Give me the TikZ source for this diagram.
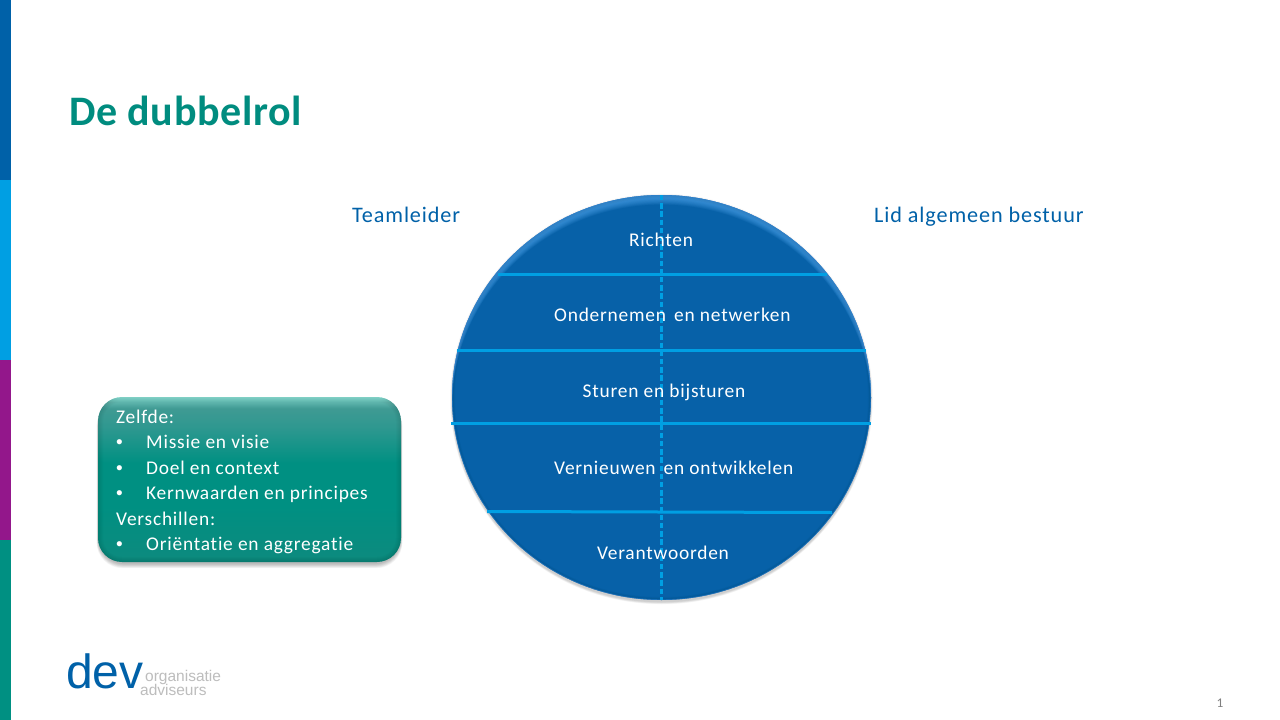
\documentclass[tikz,border=0pt]{standalone}
\usepackage{fontspec}
\setmainfont[LetterSpace=4,Ligatures=NoCommon]{Carlito}
\newfontfamily\titlefont[LetterSpace=1.6,Ligatures=NoCommon]{Carlito}
\newfontfamily\logofont{Liberation Sans}
\usetikzlibrary{calc}
\definecolor{barA}{HTML}{0061A8}
\definecolor{barB}{HTML}{009FE3}
\definecolor{barC}{HTML}{93178B}
\definecolor{barD}{HTML}{009082}
\definecolor{discbase}{HTML}{0761A8}
\definecolor{discrim}{HTML}{58ADF5}
\definecolor{discedge}{HTML}{2A7FD0}
\definecolor{lineblue}{HTML}{009FE3}
\definecolor{titleteal}{HTML}{008C7F}
\definecolor{headblue}{HTML}{0061A8}
\definecolor{logogrey}{HTML}{BDBDBD}
\definecolor{pagegrey}{HTML}{7F7F7F}
\definecolor{boxtop}{HTML}{8FE8DC}
\definecolor{boxhigh}{HTML}{5FB5AD}
\definecolor{boxmid}{HTML}{3F9A93}
\definecolor{boxlow}{HTML}{2F9890}
\definecolor{boxfoot}{HTML}{0D8A7E}
\pgfdeclareverticalshading{boxshade}{100bp}{
  color(0bp)=(boxfoot);
  color(25bp)=(boxfoot);
  color(42bp)=(barD);
  color(55bp)=(barD);
  color(66bp)=(boxlow);
  color(71.5bp)=(boxmid);
  color(73.5bp)=(boxhigh);
  color(75bp)=(boxtop);
  color(100bp)=(boxtop)}
\tikzset{
  x=1pt,y=-1pt,
  disctext/.style={inner sep=0pt,anchor=base,text=white,font=\fontsize{19.4}{22}\selectfont},
  boxtext/.style={inner sep=0pt,anchor=base west,text=white,font=\fontsize{19.4}{22}\selectfont},
  boxbullet/.style={inner sep=0pt,anchor=base west,text=white,font=\logofont\fontsize{19}{22}\selectfont},
  bandline/.style={draw=lineblue,line width=3pt},
  splitline/.style={draw=lineblue,line width=2.3pt,dash pattern=on 5.4pt off 2.8pt},
  headtext/.style={inner sep=0pt,anchor=base west,text=headblue,font=\fontsize{22.2}{26}\selectfont},
}
\begin{document}
\begin{tikzpicture}
\useasboundingbox (0,0) rectangle (1280,720);
\fill[white] (0,0) rectangle (1280,720);
% side bars
\fill[barA] (0,0) rectangle (11,180);
\fill[barB] (0,180) rectangle (11,360);
\fill[barC] (0,360) rectangle (11,540);
\fill[barD] (0,540) rectangle (11,720);
% title
\node[inner sep=0pt,anchor=base west,text=titleteal,font=\titlefont\fontsize{42}{46}\selectfont\bfseries] (title) at (69,125) {De dubbelrol};
% headings
\node[headtext] (lead) at (352,222) {Teamleider};
\node[headtext] (board) at (874,222) {Lid algemeen bestuur};
% disc shadow
\foreach \i in {0,...,7}
  \fill[black,opacity=0.022] (661.5,{399+0.1*\i}) ellipse [x radius={209.5+0.25*(7-\i)},y radius={202.5+0.4*(7-\i)}];
% disc
\fill[discbase] (661.5,397.5) ellipse [x radius=209.5,y radius=202.5];
\begin{scope}
\clip (661.5,397.5) ellipse [x radius=209.5,y radius=202.5];
\foreach \i in {1,...,12}
  \fill[discrim,opacity=0.09,even odd rule] (400,150) rectangle (920,650) (661.5,{397.5+\i*0.8}) ellipse [x radius=209.5,y radius=202.5];
\foreach \i in {1,...,5}
  \draw[black,opacity=0.02,line width={\i*1.2pt}] (661.5,397.5) ellipse [x radius=209.5,y radius=202.5];
\draw[discedge,opacity=0.6,line width=1.4pt] (661.5,397.5) ellipse [x radius=209.5,y radius=202.5];
\end{scope}
% band lines
\coordinate (l1a) at (498,274); \coordinate (l1b) at (827,274);
\coordinate (l2a) at (457,350.5); \coordinate (l2b) at (866,350.5);
\coordinate (l3a) at (451,423.5); \coordinate (l3b) at (871,423.5);
\coordinate (l4a) at (487,511.5); \coordinate (l4b) at (832,512.5);
\coordinate (sa) at (661.5,195); \coordinate (sb) at (661.5,600);
\draw[splitline] (sa) -- (sb);
\draw[bandline] (l1a) -- (l1b);
\draw[bandline] (l2a) -- (l2b);
\draw[bandline] (l3a) -- (l3b);
\draw[bandline] (l4a) -- (l4b);
% disc labels
\node[disctext] (t1) at (661,246) {Richten};
\node[disctext,anchor=base west] (t2a) at (554,321) {Ondernemen};
\node[disctext,anchor=base west] (t2b) at (674,321) {en netwerken};
\node[disctext] (t3) at (664,397) {Sturen en bijsturen};
\node[disctext,anchor=base west] (t4a) at (554,474) {Vernieuwen};
\node[disctext,anchor=base west] (t4b) at (663.5,474) {en ontwikkelen};
\node[disctext] (t5) at (663,559) {Verantwoorden};
% box shadow
\foreach \i in {0,...,7}
  \fill[black,opacity=0.035,rounded corners=26pt] ({98-(7-\i)*0.2},{400}) rectangle ({401+(7-\i)*0.2},{564+(7-\i)*0.6});
% box
\shade[rounded corners=24pt,shading=boxshade] (98,397) rectangle (401,562);
\begin{scope}
\clip[rounded corners=24pt] (98,397) rectangle (401,562);
\foreach \i in {1,...,5}
  \draw[black,opacity=0.018,line width={\i*2pt},rounded corners=24pt] (98,397) rectangle (401,562);
\end{scope}
% box text
\node[boxtext] (z0) at (116,423) {Zelfde:};
\node[boxbullet] (b1) at (116,448.5) {•};
\node[boxtext] (z1) at (146,448.5) {Missie en visie};
\node[boxbullet] (b2) at (116,474) {•};
\node[boxtext] (z2) at (146,474) {Doel en context};
\node[boxbullet] (b3) at (116,499.5) {•};
\node[boxtext] (z3) at (146,499.5) {Kernwaarden en principes};
\node[boxtext] (v0) at (116,525) {Verschillen:};
\node[boxbullet] (b4) at (116,550.5) {•};
\node[boxtext] (v1) at (146,550.5) {Oriëntatie en aggregatie};
% logo
\node[inner sep=0pt,anchor=base west,text=headblue,font=\logofont\fontsize{48}{50}\selectfont] (dev) at (66,688) {dev};
\node[inner sep=0pt,anchor=base west,text=logogrey,font=\logofont\fontsize{15.5}{17}\selectfont] (lg1) at (145,681) {organisatie};
\node[inner sep=0pt,anchor=base west,text=logogrey,font=\logofont\fontsize{15.5}{17}\selectfont] (lg2) at (140,695) {adviseurs};
% page number
\node[inner sep=0pt,anchor=base,text=pagegrey,font=\fontsize{13.3}{15}\selectfont] (pg) at (1220,707) {1};
\end{tikzpicture}
\end{document}
